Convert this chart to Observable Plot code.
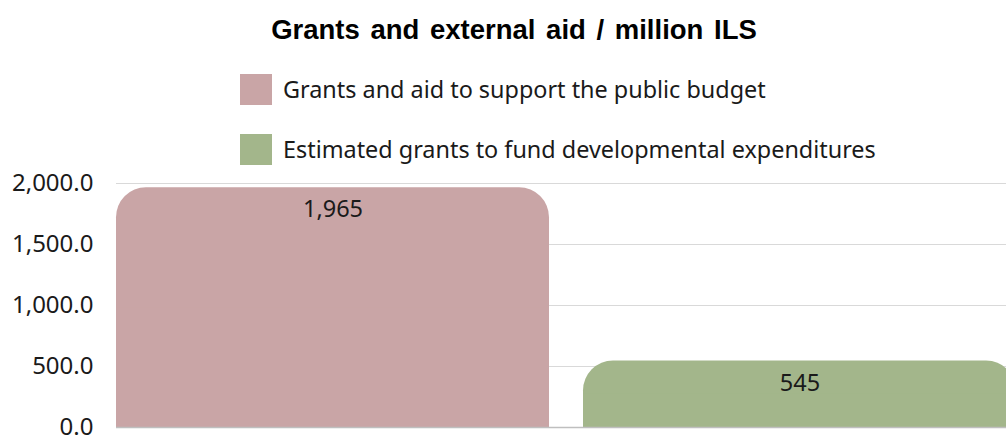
<!DOCTYPE html>
<html>
<head>
<meta charset="utf-8">
<script src="https://cdn.jsdelivr.net/npm/d3@7"></script>
<script src="https://cdn.jsdelivr.net/npm/@observablehq/plot@0.6"></script>
<style>
  html, body { margin: 0; padding: 0; background: #fff; }
  #wrap { width: 1006px; height: 435px; overflow: hidden; position: relative; font-family: "Noto Sans", sans-serif; }
  #head { position: relative; height: 170px; }
  #title { position: absolute; left: 0; width: 1028px; top: 14px; text-align: center; font-family: "Liberation Sans", Arial, sans-serif; font-weight: bold; font-size: 27.5px; word-spacing: 3px; color: #000; white-space: nowrap; }
  .lg { position: absolute; left: 240px; display: flex; align-items: center; font-size: 23.4px; color: #1a1a1a; white-space: nowrap; }
  .sw { width: 32px; height: 31px; margin-right: 11px; flex: none; }
</style>
</head>
<body>
<div id="wrap">
  <div id="head">
    <div id="title"></div>
  </div>
  <div id="chart"></div>
</div>
<script>
const titleText = "Grants and external aid / million ILS";
const categories = ["Grants and aid to support the public budget", "Estimated grants to fund developmental expenditures"];
const values = [1965, 545];
const colors = ["#C9A5A6", "#A3B68B"];
const yTicks = [0, 500, 1000, 1500, 2000];

const data = categories.map((c, i) => ({cat: c, value: values[i]}));

document.getElementById("title").textContent = titleText;
const head = document.getElementById("head");
const legendTops = [73, 133];
categories.forEach((c, i) => {
  const item = document.createElement("div");
  item.className = "lg";
  item.style.top = legendTops[i] + "px";
  const sw = document.createElement("div");
  sw.className = "sw";
  sw.style.background = colors[i];
  const lab = document.createElement("span");
  lab.textContent = c;
  item.appendChild(sw);
  item.appendChild(lab);
  head.appendChild(item);
});

const chart = Plot.plot({
  width: 1006,
  height: 265,
  marginLeft: 116,
  marginRight: 0,
  marginTop: 13,
  marginBottom: 8,
  style: {fontFamily: "Noto Sans, sans-serif", fontSize: "24px", color: "#1a1a1a", overflow: "visible"},
  x: {domain: categories, range: [116, 1016], paddingInner: 0.073, paddingOuter: 0, axis: null},
  y: {domain: [0, 2000], axis: null},
  color: {domain: categories, range: colors},
  marks: [
    Plot.gridY(yTicks, {stroke: "#d9d9d9", strokeOpacity: 1}),
    Plot.barY(data, {x: "cat", y: "value", fill: "cat", rx: 30}),
    Plot.barY(data, {x: "cat", y: d => d.value / 2, fill: "cat"}),
    Plot.ruleY([0], {stroke: "#bfbfbf", strokeWidth: 1.5}),
    Plot.axisY(yTicks, {label: null, tickSize: 0, tickPadding: 23, dy: 0, tickFormat: d => d3.format(",.1f")(d), fontSize: 24, fill: "#1a1a1a"}),
    Plot.text(data, {x: "cat", y: "value", text: d => d3.format(",")(d.value), dy: 22, fontSize: 23.5, fill: "#1a1a1a"})
  ]
});
document.getElementById("chart").appendChild(chart);
</script>
</body>
</html>
